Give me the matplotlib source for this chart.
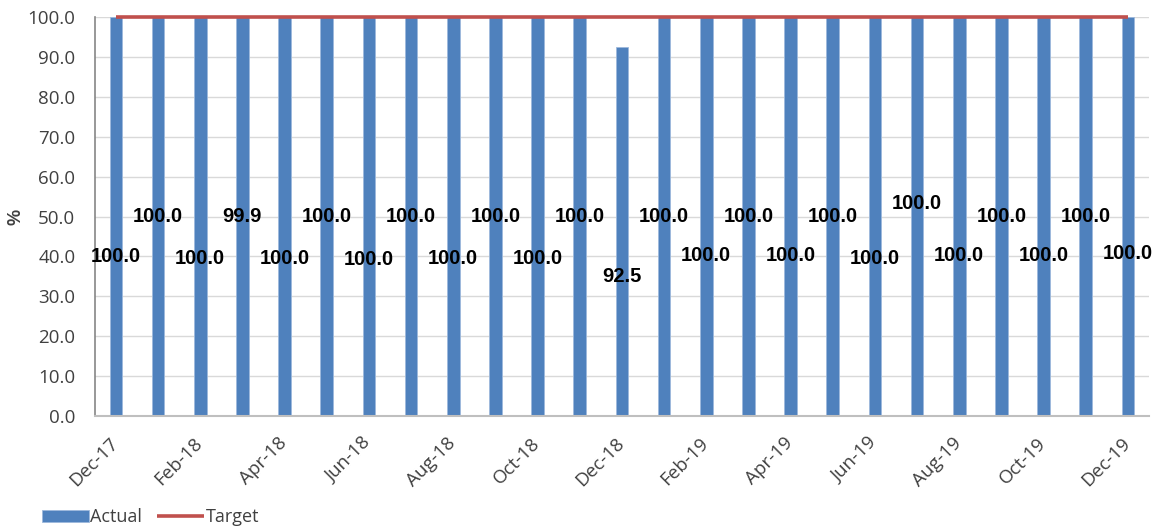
import matplotlib
matplotlib.use("Agg")
import matplotlib.pyplot as plt
import matplotlib.transforms as mtransforms
import numpy as np

months = ["Dec-17", "Jan-18", "Feb-18", "Mar-18", "Apr-18", "May-18", "Jun-18",
          "Jul-18", "Aug-18", "Sep-18", "Oct-18", "Nov-18", "Dec-18", "Jan-19",
          "Feb-19", "Mar-19", "Apr-19", "May-19", "Jun-19", "Jul-19", "Aug-19",
          "Sep-19", "Oct-19", "Nov-19", "Dec-19"]
actual = [100.0, 100.0, 100.0, 99.9, 100.0, 100.0, 100.0, 100.0, 100.0, 100.0,
          100.0, 100.0, 92.5, 100.0, 100.0, 100.0, 100.0, 100.0, 100.0, 100.0,
          100.0, 100.0, 100.0, 100.0, 100.0]
target = [100.0] * len(months)

# vertical placement of the value labels (staggered so they don't collide)
label_y = [40, 50, 39.5, 50, 39.5, 50, 39.3, 50, 39.5, 50, 39.5, 50, 35,
           50, 40.2, 50, 40.2, 50, 39.5, 53.2, 40.2, 50, 40.2, 50, 40.7]

BLUE = "#4F81BD"
RED = "#C0504D"
TICK = "#404040"

fig = plt.figure(figsize=(11.56, 5.32), dpi=100)
ax = fig.add_axes([0.082, 0.218, 0.912, 0.75])

x = np.arange(len(months))
bars = ax.bar(x, actual, width=0.3, color=BLUE, edgecolor="#9DB9DC",
              linewidth=0.6, label="Actual", zorder=2)
line, = ax.plot(x, target, color=RED, linewidth=2.6, label="Target", zorder=3,
                solid_capstyle="butt", clip_on=False)

for xi, v, ly in zip(x, actual, label_y):
    ax.text(xi, ly, f"{v:.1f}", ha="center", va="center", fontsize=14.5,
            fontweight="bold", family="Liberation Sans", color="black", zorder=4)

ax.set_xlim(-0.5, len(months) - 0.5)
ax.set_ylim(0, 100)
ax.set_yticks(np.arange(0, 101, 10))
ax.set_yticklabels([f"{t:.1f}" for t in np.arange(0, 101, 10)],
                   family="Open Sans", fontsize=13.5, color=TICK)
ax.set_xticks(x[::2])
ax.set_xticklabels(months[::2], rotation=45, ha="right", rotation_mode="anchor",
                   family="Open Sans", fontsize=13.5, color=TICK)
ax.tick_params(axis="y", length=0, pad=14)
ax.tick_params(axis="x", length=0, pad=13)

# nudge the rotated month labels a little to the left
shift = mtransforms.ScaledTranslation(-7 / 100, 0, fig.dpi_scale_trans)
for lbl in ax.get_xticklabels():
    lbl.set_transform(lbl.get_transform() + shift)

ax.grid(axis="y", color="#D9D9D9", linewidth=1.0, zorder=0)
ax.set_axisbelow(True)
for s in ["top", "right"]:
    ax.spines[s].set_visible(False)
ax.spines["left"].set_color("#868686")
ax.spines["left"].set_linewidth(1.2)
ax.spines["bottom"].set_color("#BFBFBF")
ax.spines["bottom"].set_linewidth(1.5)

fig.text(0.014, 0.592, "%", rotation=90, ha="center", va="center",
         fontsize=13, fontweight="bold", family="Liberation Sans", color=TICK)

fig.legend([bars, line], ["Actual", "Target"], loc="lower left",
           bbox_to_anchor=(0.022, -0.02), ncol=2, frameon=False,
           handlelength=2.6, handleheight=0.7, handletextpad=0.1,
           columnspacing=0.8, prop={"family": "Open Sans", "size": 13},
           labelcolor=TICK)

fig.savefig("out.png", dpi=100)
